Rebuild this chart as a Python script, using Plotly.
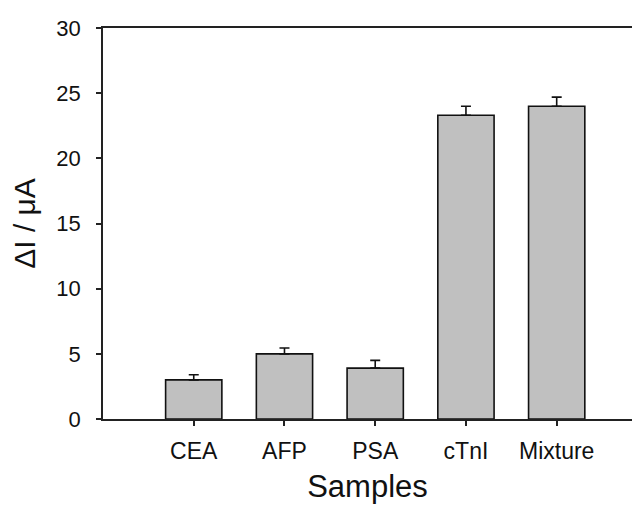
import plotly.graph_objects as go

categories = ["CEA", "AFP", "PSA", "cTnI", "Mixture"]
positions = [1, 2, 3, 4, 5]
values = [3.0, 5.0, 3.9, 23.3, 24.0]
errors = [0.4, 0.45, 0.6, 0.7, 0.7]
y_ticks = [0, 5, 10, 15, 20, 25, 30]

fig = go.Figure()
fig.add_trace(go.Bar(
    x=positions, y=values, width=0.62,
    marker=dict(color="#c0c0c0", line=dict(color="#111111", width=1.6)),
    error_y=dict(type="data", array=errors, arrayminus=[0]*len(errors), symmetric=False,
                 color="#111111", thickness=1.6, width=5),
))

fig.update_layout(
    width=624, height=496,
    margin=dict(l=95, r=0, t=20, b=85, autoexpand=False),
    paper_bgcolor="white", plot_bgcolor="white",
    showlegend=False,
    font=dict(family="Liberation Sans, Arial", color="#111111"),
)
fig.update_xaxes(
    range=[0, 5.83], tickmode="array", tickvals=positions, ticktext=categories,
    showline=True, linecolor="#222222", linewidth=1.6, mirror=True,
    ticks="outside", ticklen=5, tickwidth=1.6, tickcolor="#222222",
    showgrid=False, zeroline=False, automargin=True,
    tickfont=dict(size=23), ticklabelstandoff=6,
    title=dict(text="Samples", font=dict(size=31), standoff=14),
)
fig.update_yaxes(
    range=[0, 30], tickmode="array", tickvals=y_ticks,
    showline=True, linecolor="#222222", linewidth=1.6,
    ticks="outside", ticklen=5, tickwidth=1.6, tickcolor="#222222",
    showgrid=False, zeroline=False, automargin=True,
    tickfont=dict(size=22), ticklabelstandoff=11,
    title=dict(text="ΔI / μA", font=dict(size=30), standoff=14),
)

fig.write_html("out.html")
